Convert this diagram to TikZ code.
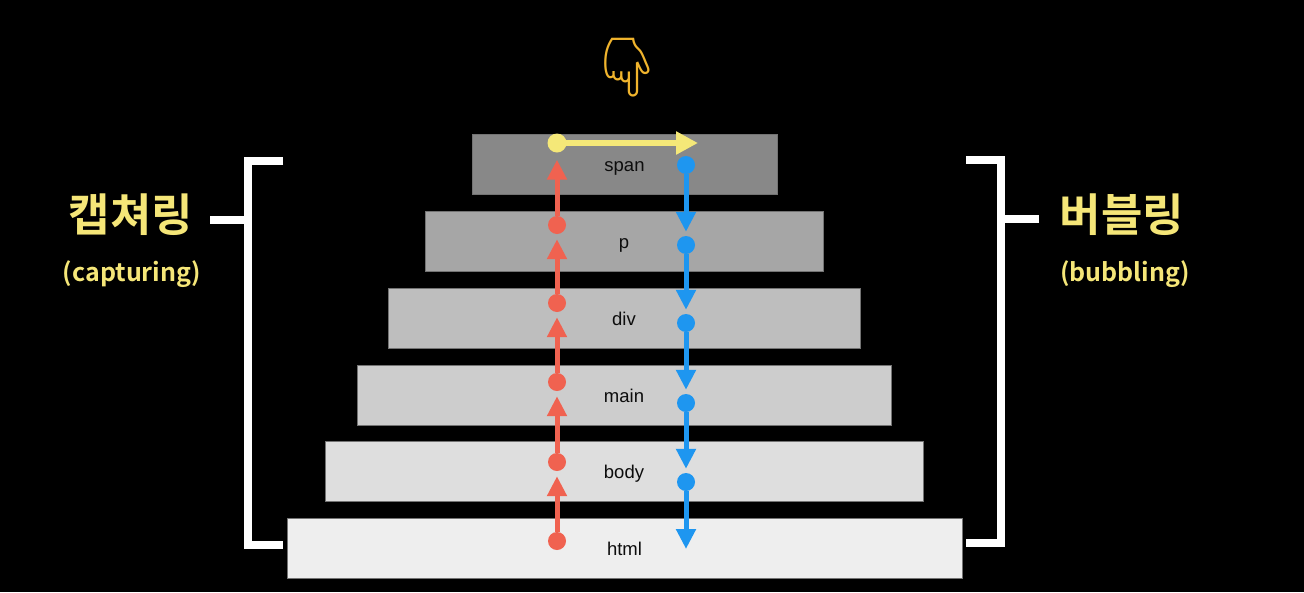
\documentclass[tikz,border=0pt]{standalone}
\usepackage{fontspec}
\setmainfont{Liberation Sans}
\newfontfamily\kr{Noto Sans CJK KR}[BoldFont={Noto Sans CJK KR Bold}]
\newfontfamily\emo{Noto Emoji}
\usetikzlibrary{arrows.meta}
\definecolor{capred}{RGB}{240,98,80}
\definecolor{bubblue}{RGB}{30,150,240}
\definecolor{hiyel}{RGB}{245,232,120}
\definecolor{txtyel}{RGB}{245,230,120}
\definecolor{handgold}{RGB}{240,180,45}
\definecolor{gspan}{RGB}{136,136,136}
\definecolor{gp}{RGB}{166,166,166}
\definecolor{gdiv}{RGB}{190,190,190}
\definecolor{gmain}{RGB}{205,205,205}
\definecolor{gbody}{RGB}{222,222,222}
\definecolor{ghtml}{RGB}{238,238,238}
\tikzset{
  layer/.style={draw=black!55, line width=0.6pt, minimum height=60pt, inner sep=0pt,
    font=\fontsize{18.5}{18.5}\selectfont, text=black!95, text height=15pt, text depth=0pt},
  rdot/.style={circle, fill=capred, minimum size=18pt, inner sep=0pt},
  bdot/.style={circle, fill=bubblue, minimum size=18pt, inner sep=0pt},
  ydot/.style={circle, fill=hiyel, minimum size=19pt, inner sep=0pt},
  rarr/.style={draw=capred, line width=5pt, -{Triangle[length=20pt,width=19pt]}, shorten >=5pt},
  barr/.style={draw=bubblue, line width=5pt, -{Triangle[length=20pt,width=19pt]}, shorten >=4pt},
  yarr/.style={draw=hiyel, line width=5.5pt, -{Triangle[length=22pt,width=22pt]}},
  brack/.style={draw=white, line width=8pt, miter limit=10},
  bigkr/.style={text=txtyel, font=\kr\bfseries\fontsize{45}{45}\selectfont, inner sep=0pt},
  smallkr/.style={text=txtyel, font=\kr\bfseries\fontsize{25}{25}\selectfont, inner sep=0pt},
}
\begin{document}
\begin{tikzpicture}[x=1pt,y=-1pt]
\fill[black] (0,0) rectangle (1304,592);
\useasboundingbox (0,0) rectangle (1304,592);

% layers
\node[layer, fill=gspan, minimum width=305pt] (span) at (624.5,164) {span};
\node[layer, fill=gp,    minimum width=398pt] (p)    at (624,241) {p};
\node[layer, fill=gdiv,  minimum width=472pt] (div)  at (624,318) {div};
\node[layer, fill=gmain, minimum width=534pt] (main) at (624,395) {main};
\node[layer, fill=gbody, minimum width=598pt] (body) at (624,471) {body};
\node[layer, fill=ghtml, minimum width=675pt] (html) at (624.5,548) {html};

% hand
\node[text=handgold, font=\emo\fontsize{58}{58}\selectfont, inner sep=0pt] (hand) at (627,68) {👇};

% capturing dots
\node[rdot] (rhtml) at (557,541) {};
\node[rdot] (rbody) at (557,462) {};
\node[rdot] (rmain) at (557,382) {};
\node[rdot] (rdiv)  at (557,303) {};
\node[rdot] (rp)    at (557,225) {};
\node[ydot] (yspan) at (557,143) {};
\coordinate (ytip) at (698,143);

% bubbling dots
\node[bdot] (bspan) at (686,165) {};
\node[bdot] (bp)    at (686,245) {};
\node[bdot] (bdiv)  at (686,323) {};
\node[bdot] (bmain) at (686,403) {};
\node[bdot] (bbody) at (686,482) {};
\coordinate (bend) at (686,549);

% capturing arrows
\draw[rarr] (rhtml) -- (rbody);
\draw[rarr] (rbody) -- (rmain);
\draw[rarr] (rmain) -- (rdiv);
\draw[rarr] (rdiv) -- (rp);
\draw[rarr, shorten >=7pt] (rp) -- (yspan);

% target arrow
\draw[yarr] (yspan.center) -- (ytip);

% bubbling arrows
\draw[barr] (bspan) -- (bp);
\draw[barr] (bp) -- (bdiv);
\draw[barr] (bdiv) -- (bmain);
\draw[barr] (bmain) -- (bbody);
\draw[barr, shorten >=0pt] (bbody) -- (bend);

% brackets
\coordinate (lt) at (283,161);
\coordinate (lb) at (283,545);
\coordinate (ltick) at (210,220);
\draw[brack] (lt) -- (248,161) -- (248,545) -- (lb);
\draw[brack] (ltick) -- (248,220);
\coordinate (rt) at (966,160);
\coordinate (rb) at (966,543);
\coordinate (rtick) at (1039,219);
\draw[brack] (rt) -- (1001,160) -- (1001,543) -- (rb);
\draw[brack] (rtick) -- (1001,219);

% labels
\node[bigkr] (captitle) at (131,215) {캡쳐링};
\node[smallkr] (capsub) at (132,274) {(capturing)};
\node[bigkr] (bubtitle) at (1122,215) {버블링};
\node[smallkr] (bubsub) at (1125,274) {(bubbling)};
\end{tikzpicture}
\end{document}
